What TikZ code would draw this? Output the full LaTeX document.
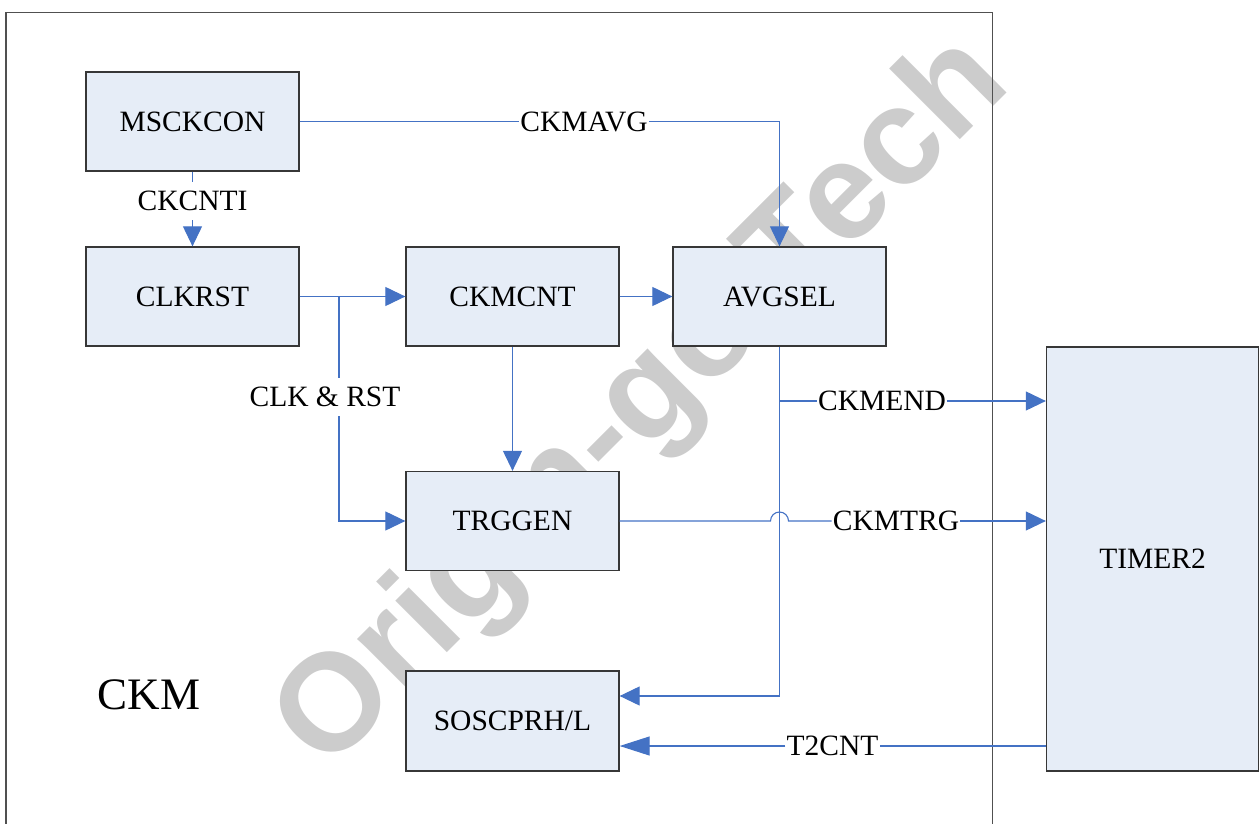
\documentclass[tikz,border=0pt]{standalone}
\usepackage{fontspec}
\setmainfont{Liberation Serif}
\newfontfamily\wmfont{Liberation Sans}
\usetikzlibrary{arrows.meta,calc}
\definecolor{boxfill}{RGB}{230,237,247}
\definecolor{boxline}{RGB}{55,55,55}
\definecolor{outline}{RGB}{80,80,80}
\definecolor{wireblue}{RGB}{68,114,196}
\definecolor{wmark}{RGB}{204,204,204}
\begin{document}
\begin{tikzpicture}[x=1pt,y=-1pt,
  blk/.style={draw=boxline, line width=1.3pt, fill=boxfill, minimum width=213pt, minimum height=99pt, inner sep=0pt, font=\fontsize{29.5}{32}\selectfont},
  lbl/.style={inner sep=1pt, font=\fontsize{29.5}{32}\selectfont},
  wire/.style={draw=wireblue, line width=1.1pt},
  arr/.style={wire, -{Triangle[length=20pt,width=19pt]}},
  bigarr/.style={wire, -{Triangle[length=30pt,width=19pt]}}]
\useasboundingbox (0,0) rectangle (1259,824);
% watermark
\node[rotate=45, anchor=base, text=wmark, inner sep=0pt, font=\wmfont\bfseries\fontsize{138}{138}\selectfont] (wm) at (670,430) {Origin-go Tech};
% outer CKM frame
\draw[draw=outline, line width=1.2pt] (6,830) -- (6,12.5) -- (992.5,12.5) -- (992.5,830);
% blocks
\node[blk] (msckcon) at (192.5,121.5) {MSCKCON};
\node[blk] (clkrst) at (192.5,296.5) {CLKRST};
\node[blk] (ckmcnt) at (512.5,296.5) {CKMCNT};
\node[blk] (avgsel) at (779.5,296.5) {AVGSEL};
\node[blk] (trggen) at (512.5,521) {TRGGEN};
\node[blk, minimum height=100pt] (soscprh) at (512.5,721) {SOSCPRH/L};
\node[blk, minimum width=212pt, minimum height=424pt] (timer2) at (1152.5,559) {TIMER2};
\node[inner sep=0pt, font=\fontsize{45}{48}\selectfont] (ckm) at (149,695) {CKM};
% labels
\node[lbl] (lckcnti) at (192.5,201) {CKCNTI};
\node[lbl] (lckmavg) at (584,121.5) {CKMAVG};
\node[lbl] (lclkrst) at (325,397) {CLK \& RST};
\node[lbl] (lckmend) at (882,401) {CKMEND};
\node[lbl] (lckmtrg) at (896,521) {CKMTRG};
\node[lbl] (lt2cnt) at (832.5,746) {T2CNT};
\coordinate (br) at (339,296.5);
% connectors
\draw[wire] (msckcon.south) -- ($(lckcnti.north)+(0,-8)$);
\draw[arr] ($(lckcnti.south)+(0,8)$) -- (clkrst.north);
\draw[wire] (msckcon.east) -- (lckmavg.west);
\draw[arr] (lckmavg.east) -| (avgsel.north);
\draw[arr] (clkrst.east) -- (ckmcnt.west);
\draw[wire] (br) -- ($(br |- lclkrst.north)+(0,-8)$);
\draw[arr] ($(br |- lclkrst.south)+(0,8)$) |- (trggen.west);
\draw[arr] (ckmcnt.east) -- (avgsel.west);
\draw[arr] (ckmcnt.south) -- (trggen.north);
\draw[arr] (avgsel.south) |- ($(soscprh.east)+(0,-25)$);
\draw[wire] (avgsel.south |- lckmend.west) -- (lckmend.west);
\draw[arr] (lckmend.east) -- (timer2.west |- lckmend.east);
\draw[wire] (trggen.east) -- ($(avgsel.south |- trggen.east)+(-9,0)$) arc[start angle=180, end angle=0, radius=9pt] -- (lckmtrg.west);
\draw[arr] (lckmtrg.east) -- (timer2.west |- lckmtrg.east);
\draw[wire] (timer2.west |- lt2cnt.east) -- (lt2cnt.east);
\draw[bigarr] (lt2cnt.west) -- (soscprh.east |- lt2cnt.west);
\end{tikzpicture}
\end{document}
